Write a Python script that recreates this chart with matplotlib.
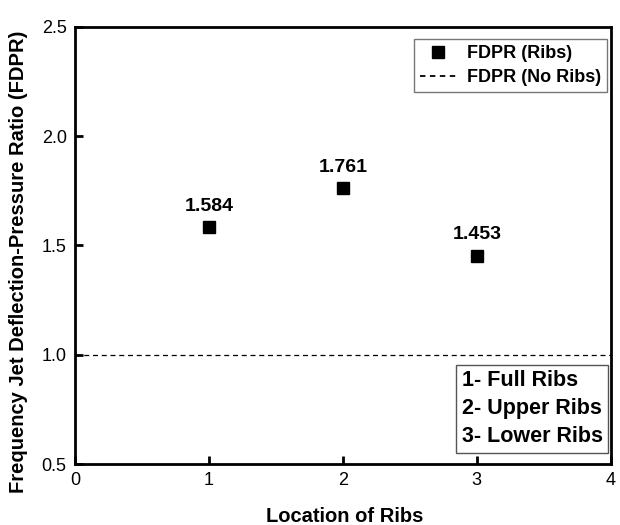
import matplotlib
matplotlib.use("Agg")
import matplotlib.pyplot as plt
from matplotlib.lines import Line2D

plt.rcParams['font.family'] = ['Liberation Sans', 'DejaVu Sans']

locations = [1, 2, 3]
fdpr_ribs = [1.584, 1.761, 1.453]
value_labels = ["1.584", "1.761", "1.453"]
fdpr_no_ribs = 1.0
x_ticks = [0, 1, 2, 3, 4]
y_ticks = [0.5, 1.0, 1.5, 2.0, 2.5]

fig = plt.figure(figsize=(6.2, 5.25), dpi=100)
ax = fig.add_axes([0.121, 0.116, 0.864, 0.833])

ax.plot(locations, fdpr_ribs, 's', color='black', markersize=8.5, linestyle='none', label='FDPR (Ribs)')
ax.axhline(fdpr_no_ribs, color='black', linestyle=(0, (4, 3)), linewidth=0.9, label='FDPR (No Ribs)')

for x, y, t in zip(locations, fdpr_ribs, value_labels):
    ax.annotate(t, (x, y), xytext=(0, 9), textcoords='offset points', ha='center', va='bottom',
                fontsize=14, fontweight='bold')

ax.set_xlim(0, 4)
ax.set_ylim(0.5, 2.5)
ax.set_xticks(x_ticks)
ax.set_yticks(y_ticks)
ax.set_xticklabels([str(v) for v in x_ticks])
ax.set_yticklabels([f"{v:.1f}" for v in y_ticks])
ax.tick_params(direction='in', length=6, width=2, labelsize=13, pad=6)
for s in ax.spines.values():
    s.set_linewidth(2)

ax.set_xlabel('Location of Ribs', fontsize=14.5, fontweight='bold')
ax.xaxis.set_label_coords(0.504, -0.097)
ax.set_ylabel('Frequency Jet Deflection-Pressure Ratio (FDPR)', fontsize=14.5, fontweight='bold')
ax.yaxis.set_label_coords(-0.106, 0.462)
ax.yaxis.label.set_va('center')

handles = [Line2D([], [], marker='s', color='black', linestyle='none', markersize=8),
           Line2D([], [], color='black', linestyle=(0, (3, 2.5)), linewidth=1.3)]
leg = ax.legend(handles, ['FDPR (Ribs)', 'FDPR (No Ribs)'], loc='upper right',
                bbox_to_anchor=(0.994, 0.973), borderaxespad=0.0,
                prop={'weight': 'bold', 'size': 13}, frameon=True, fancybox=False,
                edgecolor='#555555', handlelength=2.0, handletextpad=0.6,
                borderpad=0.35, labelspacing=0.4)
leg.get_frame().set_linewidth(1.0)

ax.text(0.985, 0.038, "1- Full Ribs\n2- Upper Ribs\n3- Lower Ribs", transform=ax.transAxes,
        ha='left', va='bottom', fontsize=15.5, fontweight='bold', linespacing=1.45,
        bbox=dict(boxstyle='square,pad=0.25', facecolor='white', edgecolor='#555555', linewidth=1.0))

fig.canvas.draw()
t = ax.texts[-1]
bb = t.get_window_extent()
axbb = ax.get_window_extent()
t.set_position(((axbb.x1 - 8 - bb.width - axbb.x0) / axbb.width, 0.038))

fig.savefig('out.png', dpi=100)
